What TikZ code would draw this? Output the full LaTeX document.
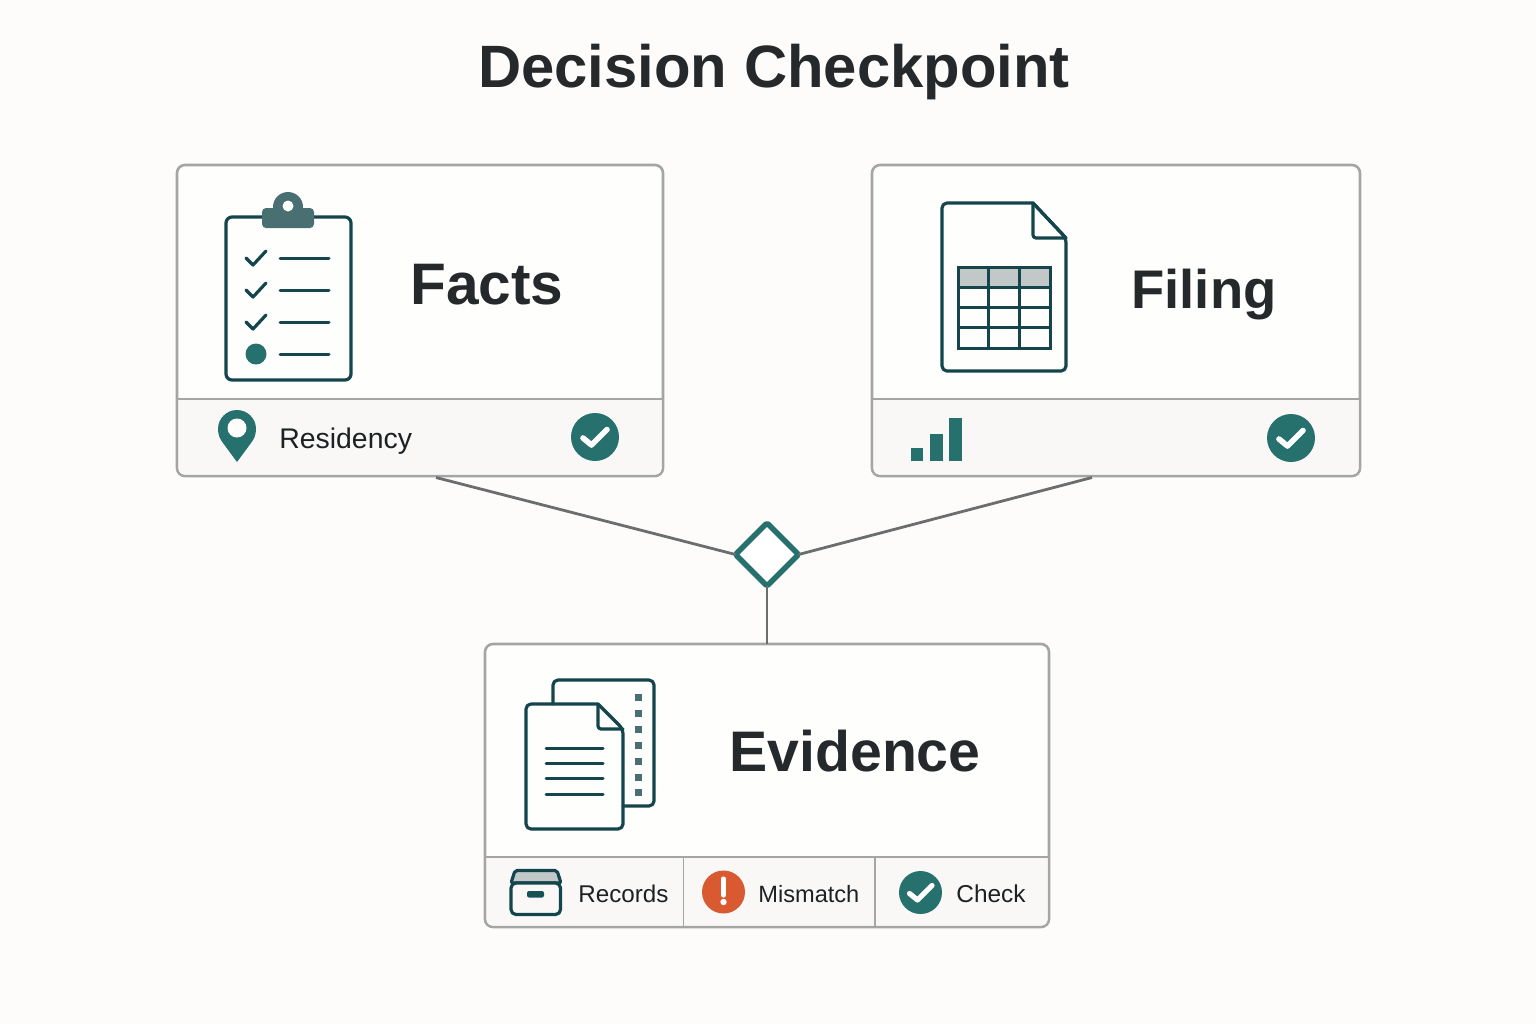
\documentclass[tikz,border=0pt]{standalone}
\usepackage{fontspec}
\setmainfont{Liberation Sans}
\usetikzlibrary{shapes.geometric}
\definecolor{bgc}{HTML}{FDFCFA}
\definecolor{cardc}{HTML}{FEFEFD}
\definecolor{footc}{HTML}{F9F8F7}
\definecolor{edgec}{HTML}{A3A6A5}
\definecolor{linkc}{HTML}{6B6E6E}
\definecolor{inkc}{HTML}{14454C}
\definecolor{tealc}{HTML}{26706E}
\definecolor{clipc}{HTML}{4A6F73}
\definecolor{greyc}{HTML}{C2C8C8}
\definecolor{textc}{HTML}{25292B}
\definecolor{smallc}{HTML}{1C2124}
\definecolor{alertc}{HTML}{D95A30}
\tikzset{
  x=0.5pt,y=-0.5pt,
  cardbox/.style={draw=edgec,line width=1.3pt,fill=cardc,rounded corners=4pt,inner sep=0pt,outer sep=0pt},
  footfill/.style={fill=footc},
  sepline/.style={draw=edgec,line width=0.8pt},
  linkline/.style={draw=linkc,line width=1.4pt},
  inkline/.style={draw=inkc,line width=1.6pt,line join=round,line cap=round},
  thinrule/.style={draw=inkc,line width=1.5pt,line cap=round},
  tablerule/.style={draw=inkc,line width=1.5pt},
  decisionbox/.style={diamond,draw=tealc,line width=2.8pt,fill=white,inner sep=0pt,minimum width=31.5pt,minimum height=31.5pt,rounded corners=0.8pt,line join=round,outer sep=0pt},
  titletext/.style={anchor=base,font=\bfseries\fontsize{29.9}{32}\selectfont,text=textc,inner sep=0pt},
  headtext/.style={anchor=base west,font=\bfseries,text=textc,inner sep=0pt},
  smalltext/.style={anchor=base west,text=smallc,inner sep=0pt},
  tealdot/.style={circle,fill=tealc,inner sep=0pt,outer sep=0pt},
  okmark/.style={draw=white,line width=2.8pt,line cap=round,line join=round},
  tick/.style={draw=inkc,line width=1.6pt,line cap=round,line join=round},
}
\begin{document}
\begin{tikzpicture}
\useasboundingbox (0,0) rectangle (1536,1024);
\fill[bgc] (0,0) rectangle (1536,1024);
\node[titletext] (title) at (774,87.5) {Decision Checkpoint};

% cards
\node[cardbox,minimum width=243pt,minimum height=155.5pt] (facts) at (420,320.5) {};
\node[cardbox,minimum width=244pt,minimum height=155.5pt] (filing) at (1116,320.5) {};
\node[cardbox,minimum width=282pt,minimum height=141.5pt] (evidence) at (767,785.5) {};

% footers
\fill[footfill] (178.5,399) [rounded corners=3pt] -- (178.5,474.5) -- (661.5,474.5) [sharp corners] -- (661.5,399) -- cycle;
\draw[sepline] (177,399) -- (663,399);
\fill[footfill] (873.5,399) [rounded corners=3pt] -- (873.5,474.5) -- (1358.5,474.5) [sharp corners] -- (1358.5,399) -- cycle;
\draw[sepline] (872,399) -- (1360,399);
\fill[footfill] (486.5,857) [rounded corners=3pt] -- (486.5,925.5) -- (1047.5,925.5) [sharp corners] -- (1047.5,857) -- cycle;
\draw[sepline] (485,857) -- (1049,857);
\draw[sepline] (683.5,857) -- (683.5,927);
\draw[sepline] (875,857) -- (875,927);

% decision and connectors
\node[decisionbox] (gate) at (767,554.5) {};
\draw[linkline] ([xshift=8pt,yshift=-0.75pt]facts.south) -- (gate.west);
\draw[linkline] ([xshift=-12pt,yshift=-0.75pt]filing.south) -- (gate.east);
\draw[linkline] (gate.south) -- (evidence.north);

% headings
\node[headtext,font=\bfseries\fontsize{29.3}{32}\selectfont] (factslabel) at (410,304) {Facts};
\node[headtext,font=\bfseries\fontsize{27.2}{32}\selectfont] (filinglabel) at (1131,308) {Filing};
\node[headtext,font=\bfseries\fontsize{28.6}{32}\selectfont] (evidencelabel) at (729,771) {Evidence};

% clipboard
\draw[inkline,rounded corners=3pt] (226,217) rectangle (351,380);
\fill[clipc,rounded corners=2pt] (262,228) -- (262,208) -- (314,208) -- (314,228) -- cycle;
\fill[clipc] (288,207) circle[radius=15];
\fill[cardc] (288,206) circle[radius=5.5];
\foreach \y in {258,290,322}{
  \draw[tick] (246,\y) -- (253,\y+7) -- (266,\y-7);
  \draw[thinrule] (280,\y) -- (329,\y);
}
\draw[thinrule] (280,354) -- (329,354);
\fill[tealc] (256,354) circle[radius=10.5];

% pin
\fill[tealc] (237,462) -- (223,443) .. controls (220,439) and (218,435) .. (218,429)
  arc[start angle=180,end angle=360,radius=19] .. controls (256,435) and (254,439) .. (251,443) -- cycle;
\fill[cardc] (237,428) circle[radius=9.5];
\node[smalltext,font=\fontsize{14.2}{16}\selectfont] (residency) at (279,448) {Residency};

% ok badges
\node[tealdot,minimum size=24pt] (factsok) at (595,437) {};
\draw[okmark] ([shift={(-12,1)}]factsok.center) -- ++(8.5,7) -- ++(15.5,-15.5);
\node[tealdot,minimum size=24pt] (filingok) at (1291,438) {};
\draw[okmark] ([shift={(-12,1)}]filingok.center) -- ++(8.5,7) -- ++(15.5,-15.5);

% filing document
\draw[inkline,rounded corners=2.5pt] (1033,203) -- (942,203) -- (942,371) -- (1066,371) -- (1066,238) [sharp corners] -- (1033,203);
\draw[inkline] (1033,203) -- (1066,238);
\draw[inkline,rounded corners=1.5pt] (1033,203) -- (1033,238) -- (1066,238);
\fill[greyc] (958,267) rectangle (1050,287);
\draw[tablerule] (958,267) rectangle (1050,348);
\foreach \y in {287,307,327} \draw[tablerule] (958,\y) -- (1050,\y);
\foreach \x in {988.5,1019} \draw[tablerule] (\x,267) -- (\x,348);

% bars
\fill[tealc] (911,448) rectangle (923,461);
\fill[tealc] (930,434) rectangle (943,461);
\fill[tealc] (949,418) rectangle (962,461);

% evidence documents
\draw[inkline,rounded corners=2.5pt] (553,704) -- (553,680) -- (654,680) -- (654,806) -- (623,806);
\foreach \y in {697,713,729,745,761,777,792}
  \fill[clipc] (635,\y-3.5) rectangle (642,\y+3.5);
\draw[inkline,rounded corners=2.5pt] (598,704) -- (526,704) -- (526,829) -- (623,829) -- (623,729) [sharp corners] -- (598,704);
\draw[inkline,rounded corners=1.5pt] (598,704) -- (598,729) -- (623,729);
\foreach \y in {748,763,778,794} \draw[thinrule] (546,\y) -- (603,\y);

% archive box
\draw[inkline,fill=greyc,rounded corners=1pt] (511,883) -- (515,870.5) -- (557,870.5) -- (561,883) -- cycle;
\draw[inkline,fill=footc,rounded corners=2.5pt] (511,883) rectangle (560.5,914.5);
\fill[inkc!70!tealc,rounded corners=1pt] (527,891) rectangle (544,897.5);
\node[smalltext,font=\fontsize{12.1}{14}\selectfont] (records) at (578,902.5) {Records};

% mismatch
\node[circle,fill=alertc,inner sep=0pt,outer sep=0pt,minimum size=21.5pt] (alert) at (723.5,892) {};
\draw[white,line width=2.6pt,line cap=round] ([yshift=6.5pt]alert.center) -- ([yshift=-1.5pt]alert.center);
\fill[white] ([yshift=-5pt]alert.center) circle[radius=3.2];
\node[smalltext,font=\fontsize{11.8}{14}\selectfont] (mismatch) at (758,902.5) {Mismatch};

% check
\node[tealdot,minimum size=21.5pt] (checkok) at (920.5,892.5) {};
\draw[okmark,line width=2.6pt] ([shift={(-11,1)}]checkok.center) -- ++(8,6.5) -- ++(14.5,-14.5);
\node[smalltext,font=\fontsize{12.2}{14}\selectfont] (check) at (956,902.5) {Check};
\end{tikzpicture}
\end{document}
